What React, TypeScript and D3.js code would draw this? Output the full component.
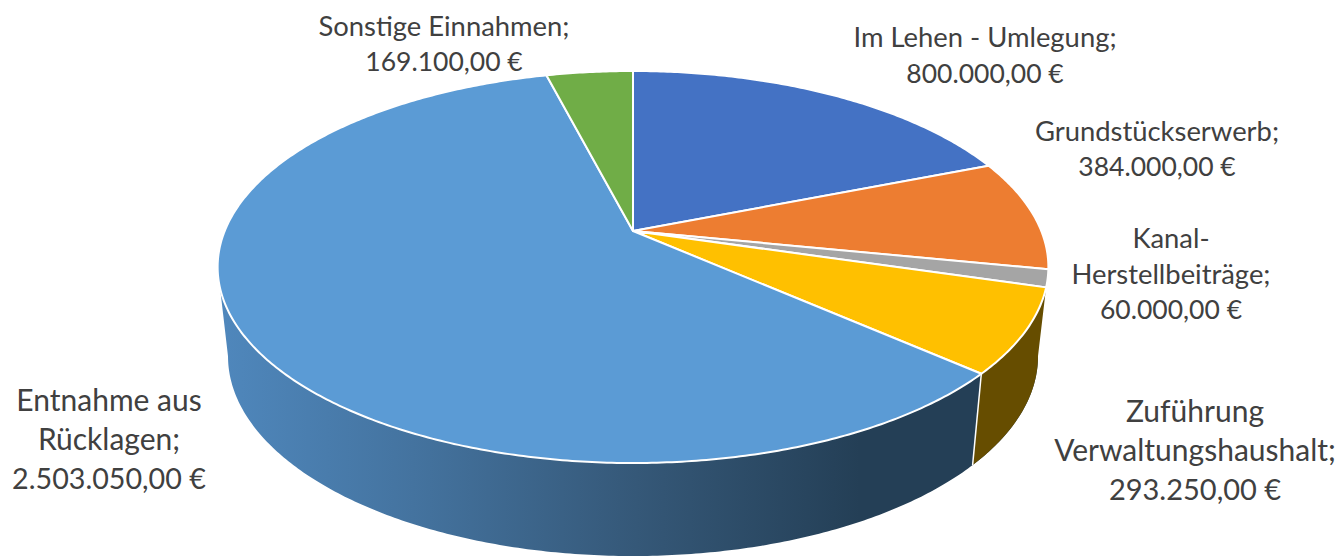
import React from "react";
import * as d3 from "d3";

const categories = ["Im Lehen - Umlegung", "Grundstückserwerb", "Kanal-Herstellbeiträge", "Zuführung Verwaltungshaushalt", "Entnahme aus Rücklagen", "Sonstige Einnahmen"];
const values = [800000, 384000, 60000, 293250, 2503050, 169100];
const valueLabels = ["800.000,00 €", "384.000,00 €", "60.000,00 €", "293.250,00 €", "2.503.050,00 €", "169.100,00 €"];
const nameLines = [["Im Lehen - Umlegung;"], ["Grundstückserwerb;"], ["Kanal-", "Herstellbeiträge;"], ["Zuführung", "Verwaltungshaushalt;"], ["Entnahme aus", "Rücklagen;"], ["Sonstige Einnahmen;"]];
const colors = ["#4472C4", "#ED7D31", "#A5A5A5", "#FFC000", "#5B9BD5", "#70AD47"];

// label layout: centre x, first baseline, line step, value font size, name font size
const layout = [
  { x: 985, y: 47, dy: 36, fs: 26.5, nameFs: 27.4 },
  { x: 1157, y: 141, dy: 35, fs: 26.5, nameFs: 27.4 },
  { x: 1171, y: 248, dy: 35.5, fs: 26.5, nameFs: 27.4 },
  { x: 1195, y: 422, dy: 39, fs: 29, nameFs: 30 },
  { x: 109, y: 411, dy: 39, fs: 28.7, nameFs: 30 },
  { x: 444, y: 36, dy: 35, fs: 26.5, nameFs: 27.4 },
];

const W = 1339, H = 556;
const cx = 633, cy = 231;
const A = 189.4, D = 408.3, C = -0.1837;
const sideScaleX = 0.975, sideScaleY = 1.019, sideOffset = 88.6;
const silhouette = Math.acos(-0.1836);

function project(a: number, sx = 1, sy = 1, off = 0): [number, number] {
  const X = Math.sin(a), Y = -Math.cos(a);
  const w = 1 + C * Y;
  return [cx + (D * X / w) * sx, cy + (A * Y / w) * sy + off];
}
const projectLow = (a: number) => project(a, sideScaleX, sideScaleY, sideOffset);

function samples(a0: number, a1: number): number[] {
  const n = Math.max(2, Math.ceil(Math.abs(a1 - a0) / 0.01));
  return d3.range(n + 1).map((i) => a0 + ((a1 - a0) * i) / n);
}

const line = d3.line();
const arcs = d3.pie<number>().sort(null).startAngle(0).endAngle(2 * Math.PI)(values);

function topPath(a0: number, a1: number) {
  return line([[cx, cy], ...samples(a0, a1).map((a) => project(a))])! + "Z";
}

function sidePath(a0: number, a1: number) {
  const f1 = Math.min(a1, 2 * Math.PI - silhouette);
  const top = samples(a0, f1).map((a) => project(a));
  const bottom = samples(f1, a0 > silhouette ? silhouette : a0).map(projectLow);
  return line([...top, ...bottom])! + "Z";
}

export default function App() {
  const blue = arcs[4], yellow = arcs[3];
  const e0 = project(blue.startAngle), e1 = projectLow(blue.startAngle);
  return (
    <svg width={W} height={H} viewBox={`0 0 ${W} ${H}`} style={{ position: "absolute", left: 0, top: 0, background: "#fff" }}>
      <defs>
        <linearGradient id="blueSide" gradientUnits="userSpaceOnUse" x1={222} x2={860} y1={0} y2={0}>
          <stop offset="0" stopColor="#4F87BC" />
          <stop offset="0.3" stopColor="#44739F" />
          <stop offset="0.65" stopColor="#355878" />
          <stop offset="1" stopColor="#243F56" />
        </linearGradient>
      </defs>
      <path d={sidePath(blue.startAngle, blue.endAngle)} fill="url(#blueSide)" />
      <path d={sidePath(yellow.startAngle, yellow.endAngle)} fill="#664D00" />
      <line x1={e0[0]} y1={e0[1]} x2={e1[0]} y2={e1[1]} stroke="#fff" strokeWidth={1.5} />
      {arcs.map((d, i) => (
        <path key={categories[i]} d={topPath(d.startAngle, d.endAngle)} fill={colors[i]} stroke="#fff" strokeWidth={2} strokeLinejoin="round" />
      ))}
      {categories.map((c, i) => {
        const l = layout[i];
        const names = nameLines[i];
        return (
          <text key={c} textAnchor="middle" fontFamily="Lato, 'Open Sans', sans-serif" fontSize={l.nameFs} fill="#404040">
            {names.map((t, j) => (
              <tspan key={j} x={l.x} y={l.y + j * l.dy}>{t}</tspan>
            ))}
            <tspan x={l.x} y={l.y + names.length * l.dy} fontSize={l.fs}>{valueLabels[i]}</tspan>
          </text>
        );
      })}
    </svg>
  );
}
